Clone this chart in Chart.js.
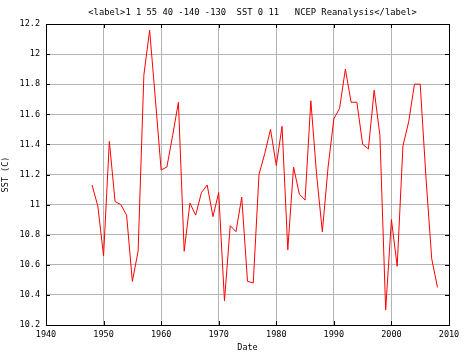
<!DOCTYPE html>
<html>
<head>
<meta charset="utf-8">
<script src="https://cdn.jsdelivr.net/npm/chart.js@4"></script>
<style>
html,body{margin:0;padding:0;background:#fff;}
#wrap{width:469px;height:357px;position:relative;}
</style>
</head>
<body>
<div id="wrap"><canvas id="c" width="469" height="357"></canvas></div>
<script>
const titleText = "<label>1 1 55 40 -140 -130  SST 0 11   NCEP Reanalysis</label>";
const xLabel = "Date";
const yLabel = "SST (C)";
const years = [];
for (let y = 1948; y <= 2008; y++) years.push(y);
const sst = [11.13,10.99,10.66,11.42,11.02,11.00,10.93,10.49,10.69,11.86,
             12.16,11.70,11.23,11.25,11.46,11.68,10.69,11.01,10.93,11.08,
             11.13,10.92,11.08,10.36,10.86,10.82,11.05,10.49,10.48,11.20,
             11.34,11.50,11.26,11.52,10.70,11.25,11.07,11.03,11.69,11.20,
             10.82,11.25,11.57,11.64,11.90,11.68,11.68,11.40,11.37,11.76,
             11.46,10.30,10.90,10.59,11.39,11.55,11.80,11.80,11.18,10.64,
             10.45];
const xTicks = [1940,1950,1960,1970,1980,1990,2000,2010];
const yTicks = [10.2,10.4,10.6,10.8,11,11.2,11.4,11.6,11.8,12,12.2];

const font = {family: "DejaVu Sans Mono", size: 8.5};

const framePlugin = {
  id: 'frame',
  afterDraw(chart) {
    const ctx = chart.ctx, a = chart.chartArea;
    const xs = chart.scales.x, ys = chart.scales.y;
    ctx.save();
    ctx.strokeStyle = '#000';
    ctx.lineWidth = 1;
    ctx.strokeRect(Math.round(a.left)+0.5, Math.round(a.top)+0.5, Math.round(a.right-a.left), Math.round(a.bottom-a.top));
    ctx.beginPath();
    xTicks.forEach(v => {
      const px = Math.round(xs.getPixelForValue(v)) + 0.5;
      ctx.moveTo(px, a.top); ctx.lineTo(px, a.top + 4);
      ctx.moveTo(px, a.bottom); ctx.lineTo(px, a.bottom - 4);
    });
    yTicks.forEach(v => {
      const py = Math.round(ys.getPixelForValue(v)) + 0.5;
      ctx.moveTo(a.right, py); ctx.lineTo(a.right - 4, py);
      ctx.moveTo(a.left, py); ctx.lineTo(a.left + 4, py);
    });
    ctx.stroke();
    ctx.fillStyle = '#000';
    ctx.font = "8.8px 'DejaVu Sans Mono'";
    ctx.textAlign = 'center';
    ctx.textBaseline = 'middle';
    ctx.fillText(titleText, (a.left + a.right) / 2 + 5, 13);
    ctx.restore();
  }
};

new Chart(document.getElementById('c'), {
  type: 'line',
  data: {
    datasets: [{
      data: years.map((y, i) => ({x: y, y: sst[i]})),
      borderColor: '#ff0000',
      borderWidth: 1,
      pointRadius: 0,
      tension: 0,
      fill: false
    }]
  },
  options: {
    responsive: false,
    animation: false,
    layout: {padding: {top: 24, right: 20, left: 0, bottom: 0}},
    plugins: {legend: {display: false}, tooltip: {enabled: false}},
    scales: {
      x: {
        type: 'linear', min: 1940, max: 2010,
        afterBuildTicks(s) { s.ticks = xTicks.map(v => ({value: v})); },
        afterFit(s) { s.height = 32; },
        grid: {color: '#b4b4b4', lineWidth: 1, tickLength: 0, drawTicks: false},
        border: {display: false},
        ticks: {color: '#000', font: font, padding: 5, maxRotation: 0, callback: v => String(v)},
        title: {display: true, text: xLabel, color: '#000', font: font, padding: {top: 0, bottom: 4}}
      },
      y: {
        type: 'linear', min: 10.2, max: 12.2,
        afterBuildTicks(s) { s.ticks = yTicks.map(v => ({value: v})); },
        afterFit(s) { s.width = 46; },
        grid: {color: '#b4b4b4', lineWidth: 1, tickLength: 0, drawTicks: false},
        border: {display: false},
        ticks: {color: '#000', font: font, padding: 6, callback: v => String(Number(v.toFixed(1)))},
        title: {display: true, text: yLabel, color: '#000', font: font, padding: {top: 1, bottom: 0}}
      }
    }
  },
  plugins: [framePlugin]
});
</script>
</body>
</html>
